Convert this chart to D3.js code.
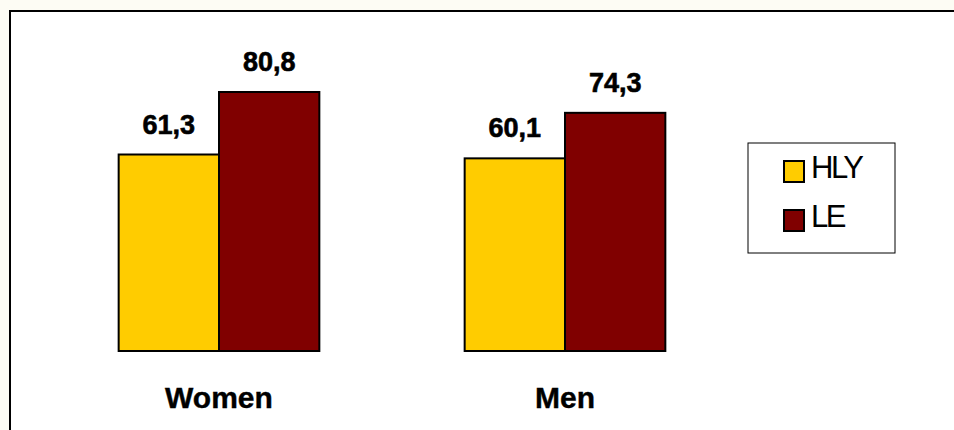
<!DOCTYPE html>
<html>
<head>
<meta charset="utf-8">
<script src="https://cdn.jsdelivr.net/npm/d3@7"></script>
<style>
  body { margin: 0; background: #fff; }
  svg { display: block; }
  text { font-family: "Liberation Sans", Arial, sans-serif; }
</style>
</head>
<body>
<div id="chart"></div>
<script>
var categories = ["Women", "Men"];
var seriesNames = ["HLY", "LE"];
var hly = [61.3, 60.1];
var le = [80.8, 74.3];
var colors = ["#ffcc00", "#800000"];

var width = 954, height = 430;

var svg = d3.select("#chart").append("svg")
    .attr("width", width)
    .attr("height", height);

// faint background outside the frame
svg.append("rect")
    .attr("width", width).attr("height", height)
    .attr("fill", "#fdfcf4");

// frame
svg.append("rect")
    .attr("x", 10).attr("y", 11)
    .attr("width", width).attr("height", height)
    .attr("fill", "#fff")
    .attr("stroke", "#000")
    .attr("stroke-width", 2);

var data = categories.map(function (c, i) {
    return { cat: c, values: [hly[i], le[i]] };
});

var x0 = d3.scaleBand()
    .domain(categories)
    .range([46, 738])
    .paddingInner(0.42)
    .paddingOuter(0.21);

var x1 = d3.scaleBand()
    .domain(seriesNames)
    .range([0, x0.bandwidth()]);

var y = d3.scaleLinear()
    .domain([0, 80.8])
    .range([351, 92]);

var groups = svg.selectAll(".grp")
    .data(data)
    .enter().append("g")
    .attr("class", "grp")
    .attr("transform", function (d) { return "translate(" + x0(d.cat) + ",0)"; });

var bars = groups.selectAll(".bar")
    .data(function (d) {
        return d.values.map(function (v, i) { return { s: seriesNames[i], v: v, i: i }; });
    })
    .enter();

bars.append("rect")
    .attr("x", function (d) { return x1(d.s); })
    .attr("y", function (d) { return y(d.v); })
    .attr("width", x1.bandwidth())
    .attr("height", function (d) { return y(0) - y(d.v); })
    .attr("fill", function (d) { return colors[d.i]; })
    .attr("stroke", "#000")
    .attr("stroke-width", 2);

bars.append("text")
    .attr("x", function (d) { return x1(d.s) + x1.bandwidth() / 2; })
    .attr("y", function (d) { return y(d.v) - 21; })
    .attr("text-anchor", "middle")
    .attr("font-size", "27px")
    .attr("font-weight", "bold")
    .attr("stroke", "#000")
    .attr("stroke-width", 0.6)
    .text(function (d) { return d3.format(".1f")(d.v).replace(".", ","); });

// category labels
svg.selectAll(".cat")
    .data(categories)
    .enter().append("text")
    .attr("x", function (d) { return x0(d) + x0.bandwidth() / 2; })
    .attr("y", 408)
    .attr("text-anchor", "middle")
    .attr("font-size", "30px")
    .attr("font-weight", "bold")
    .attr("stroke", "#000")
    .attr("stroke-width", 0.4)
    .text(function (d) { return d; });

// legend
var legend = svg.append("g").attr("transform", "translate(748,143)");
legend.append("rect")
    .attr("width", 147).attr("height", 110)
    .attr("fill", "#fff")
    .attr("stroke", "#000")
    .attr("stroke-width", 1);

var items = legend.selectAll(".item")
    .data(seriesNames)
    .enter().append("g")
    .attr("transform", function (d, i) { return "translate(36," + (18 + i * 49) + ")"; });

items.append("rect")
    .attr("width", 20).attr("height", 21)
    .attr("fill", function (d, i) { return colors[i]; })
    .attr("stroke", "#000")
    .attr("stroke-width", 2);

items.append("text")
    .attr("x", 27)
    .attr("y", 17)
    .attr("font-size", "31px")
    .attr("letter-spacing", "-2.5px")
    .text(function (d) { return d; });
</script>
</body>
</html>
